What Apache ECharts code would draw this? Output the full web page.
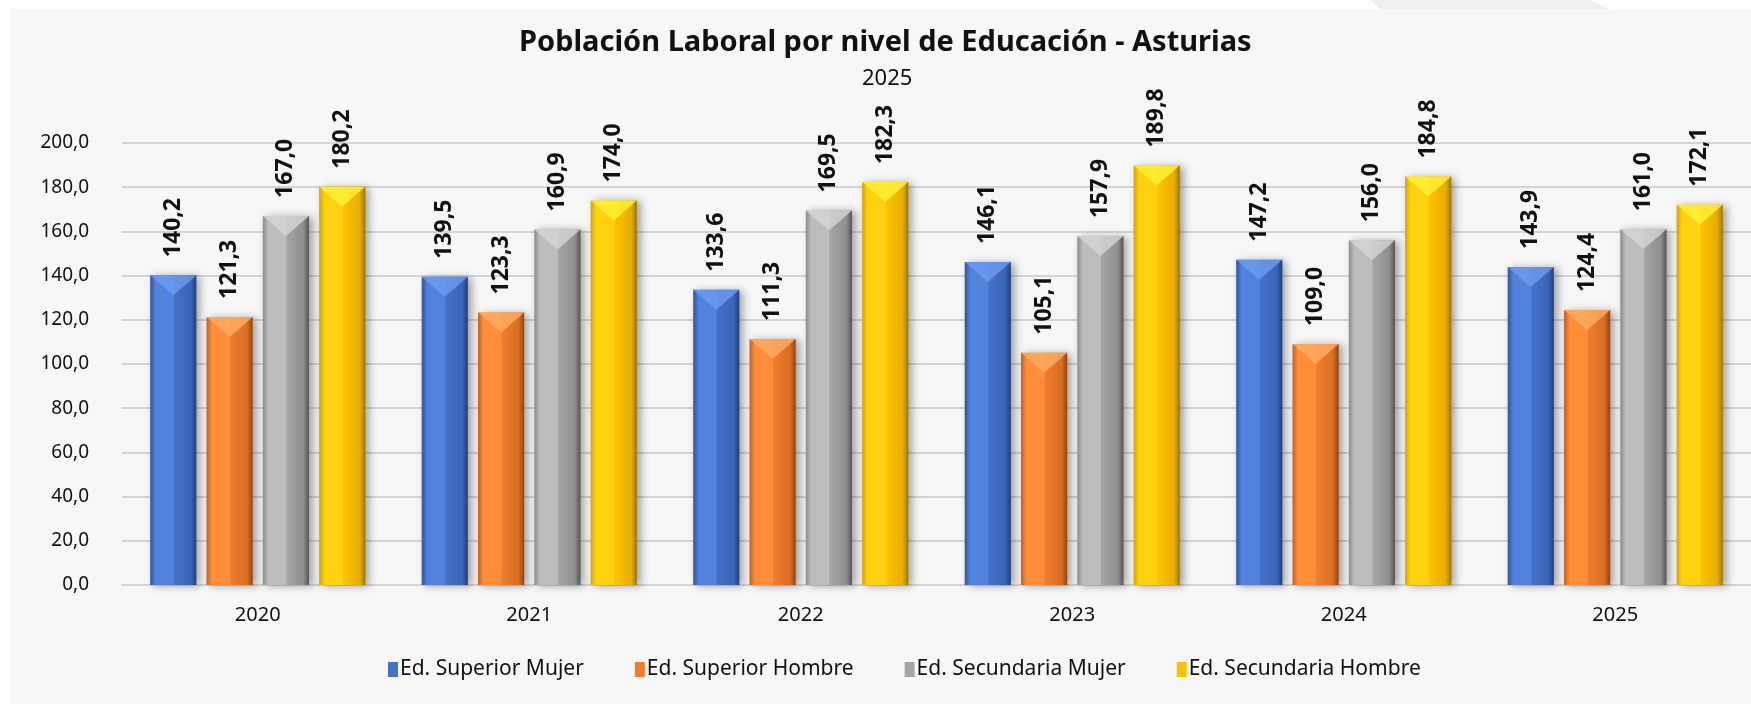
<!DOCTYPE html>
<html>
<head>
<meta charset="utf-8">
<script src="https://cdn.jsdelivr.net/npm/echarts@6/dist/echarts.min.js"></script>
<style>
  html, body { margin: 0; padding: 0; background: #fff; }
  #chart { width: 1751px; height: 704px; }
</style>
</head>
<body>
<div id="chart"></div>
<script>
const years = ['2020', '2021', '2022', '2023', '2024', '2025']
const superiorMujer = [140.2, 139.5, 133.6, 146.1, 147.2, 143.9]
const superiorHombre = [121.3, 123.3, 111.3, 105.1, 109.0, 124.4]
const secundariaMujer = [167.0, 160.9, 169.5, 157.9, 156.0, 161.0]
const secundariaHombre = [180.2, 174.0, 182.3, 189.8, 184.8, 172.1]
const seriesNames = ['Ed. Superior Mujer', 'Ed. Superior Hombre', 'Ed. Secundaria Mujer', 'Ed. Secundaria Hombre']

const fmt = v => v.toFixed(1).replace('.', ',')

// colores tipo bisel: borde oscuro, centro claro
function bevel(c) {
  return new echarts.graphic.LinearGradient(0, 0, 1, 0, [
    { offset: 0, color: c[0] },
    { offset: 0.12, color: c[1] },
    { offset: 0.5, color: c[1] },
    { offset: 0.52, color: c[2] },
    { offset: 0.88, color: c[3] },
    { offset: 1, color: c[4] }
  ])
}
const palette = [
  ['#2f549e', '#5282dc', '#4472c9', '#3a64b4', '#22407a'],
  ['#c4621d', '#ff8d3a', '#f07d2e', '#d86e24', '#8f4512'],
  ['#8c8c8c', '#bdbdbd', '#a6a6a6', '#8e8e8e', '#555555'],
  ['#d9a400', '#ffd20f', '#ffc400', '#e6ae00', '#9a7400']
]
const topColors = ['#6d9bf0', '#ffac66', '#d6d6d6', '#fff23a']
const legendColors = ['#4472c4', '#ed7d31', '#a5a5a5', '#ffc000']

function makeSeries(name, data, i) {
  return {
    name: name,
    type: 'bar',
    data: data,
    barWidth: '17%',
    barGap: '22%',
    itemStyle: {
      color: bevel(palette[i]),
      shadowColor: 'rgba(0,0,0,0.35)',
      shadowBlur: 8,
      shadowOffsetX: 4,
      shadowOffsetY: 1
    },
    label: {
      show: true,
      position: 'top',
      rotate: 90,
      align: 'left',
      verticalAlign: 'middle',
      distance: 18,
      formatter: p => fmt(p.value),
      fontFamily: 'Noto Sans',
      fontWeight: 'bold',
      fontSize: 23,
      color: '#111'
    }
  }
}

// triangulo claro en la parte superior de cada barra
function makeTop(data, i) {
  return {
    name: 'bisel' + i,
    type: 'pictorialBar',
    data: data,
    barWidth: '17%',
    barGap: '22%',
    symbol: 'path://M0,0 L2,0 L1,1 Z',
    symbolPosition: 'end',
    symbolSize: ['100%', 20],
    symbolOffset: [0, 0],
    z: 3,
    itemStyle: { color: topColors[i], opacity: 0.8 },
    silent: true
  }
}

const chart = echarts.init(document.getElementById('chart'))
chart.setOption({
  backgroundColor: '#fff',
  animation: false,
  graphic: [
    { type: 'rect', z: -10, shape: { x: 11, y: 9, width: 1740, height: 695 }, style: { fill: '#f7f7f7' } },
    { type: 'polygon', z: -10, shape: { points: [[1370, 0], [1590, 0], [1610, 9], [1380, 9]] }, style: { fill: '#efefef' } }
  ],
  title: [
    {
      text: 'Población Laboral por nivel de Educación - Asturias',
      left: 519,
      top: 28,
      padding: 0,
      textStyle: { fontFamily: 'Noto Sans', fontWeight: 'bold', fontSize: 29, color: '#111' }
    },
    {
      text: '2025',
      left: 862,
      top: 68,
      padding: 0,
      textStyle: { fontFamily: 'Noto Sans', fontWeight: 'normal', fontSize: 22, color: '#111' }
    }
  ],
  legend: {
    data: seriesNames.map((n, i) => ({ name: n, itemStyle: { color: legendColors[i] } })),
    bottom: 19,
    left: 383,
    icon: 'rect',
    itemWidth: 10,
    itemHeight: 15,
    itemGap: 51,
    textStyle: { fontFamily: 'Noto Sans', fontSize: 21, color: '#111', padding: [0, 0, 0, -3] }
  },
  grid: { left: 122, right: 0, top: 143, bottom: 119 },
  xAxis: {
    type: 'category',
    data: years,
    axisTick: { show: false },
    axisLine: { lineStyle: { color: '#d4d4d4', width: 2 } },
    axisLabel: { margin: 20, fontFamily: 'Noto Sans', fontSize: 20, color: '#111' }
  },
  yAxis: {
    type: 'value',
    min: 0,
    max: 200,
    interval: 20,
    axisLine: { show: false },
    axisTick: { show: false },
    splitLine: { lineStyle: { color: '#d4d4d4', width: 2 } },
    axisLabel: { margin: 33, formatter: v => fmt(v), fontFamily: 'Noto Sans', fontSize: 19, color: '#111' }
  },
  series: [
    makeSeries(seriesNames[0], superiorMujer, 0),
    makeSeries(seriesNames[1], superiorHombre, 1),
    makeSeries(seriesNames[2], secundariaMujer, 2),
    makeSeries(seriesNames[3], secundariaHombre, 3),
    makeTop(superiorMujer, 0),
    makeTop(superiorHombre, 1),
    makeTop(secundariaMujer, 2),
    makeTop(secundariaHombre, 3)
  ]
})
</script>
</body>
</html>
